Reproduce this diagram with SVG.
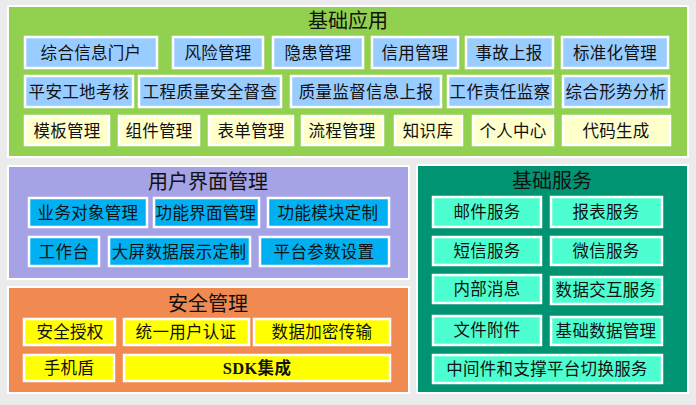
<svg xmlns="http://www.w3.org/2000/svg" width="696" height="405" viewBox="0 0 696 405">
<style>
text{font-family:"Liberation Serif","Noto Sans CJK SC",serif;fill:#111;text-anchor:middle;dominant-baseline:central}
.panel{stroke:#fff;stroke-width:2}
.box{stroke:#fff;stroke-width:2.5}
.t{font-size:16.5px;letter-spacing:0.3px}
.h{font-size:20px}
.b1{fill:#99ccff}.b2{fill:#ffffcc}.b3{fill:#00b0f0}.b4{fill:#ffff00}.b5{fill:#4dffd0}
</style>
<rect x="0" y="0" width="696" height="405" fill="#ebebeb"/>
<g id="jichuyingyong">
<rect class="panel" x="8" y="6" width="680" height="151" fill="#92d050"/>
<text class="h" x="348" y="21">基础应用</text>
</g>
<g id="n1"><rect class="box b1" x="25" y="37" width="132" height="31"/><text class="t" x="91" y="53">综合信息门户</text></g>
<g id="n2"><rect class="box b1" x="173" y="37" width="90" height="31"/><text class="t" x="218" y="53">风险管理</text></g>
<g id="n3"><rect class="box b1" x="273" y="37" width="90" height="31"/><text class="t" x="318" y="53">隐患管理</text></g>
<g id="n4"><rect class="box b1" x="372" y="37" width="86" height="31"/><text class="t" x="415" y="53">信用管理</text></g>
<g id="n5"><rect class="box b1" x="466" y="37" width="87" height="31"/><text class="t" x="509" y="53">事故上报</text></g>
<g id="n6"><rect class="box b1" x="562" y="37" width="106" height="31"/><text class="t" x="615" y="53">标准化管理</text></g>
<g id="n7"><rect class="box b1" x="25" y="76" width="108" height="31"/><text class="t" x="79" y="92">平安工地考核</text></g>
<g id="n8"><rect class="box b1" x="139" y="76" width="142" height="31"/><text class="t" x="210" y="92">工程质量安全督查</text></g>
<g id="n9"><rect class="box b1" x="291" y="76" width="150" height="31"/><text class="t" x="366" y="92">质量监督信息上报</text></g>
<g id="n10"><rect class="box b1" x="448" y="76" width="105" height="31"/><text class="t" x="500" y="92">工作责任监察</text></g>
<g id="n11"><rect class="box b1" x="563" y="76" width="106" height="31"/><text class="t" x="616" y="92">综合形势分析</text></g>
<g id="n12"><rect class="box b2" x="25" y="116" width="84" height="29"/><text class="t" x="67" y="131">模板管理</text></g>
<g id="n13"><rect class="box b2" x="119" y="116" width="80" height="29"/><text class="t" x="159" y="131">组件管理</text></g>
<g id="n14"><rect class="box b2" x="209" y="116" width="84" height="29"/><text class="t" x="251" y="131">表单管理</text></g>
<g id="n15"><rect class="box b2" x="302" y="116" width="81" height="29"/><text class="t" x="342" y="131">流程管理</text></g>
<g id="n16"><rect class="box b2" x="395" y="116" width="67" height="29"/><text class="t" x="428" y="131">知识库</text></g>
<g id="n17"><rect class="box b2" x="473" y="116" width="80" height="29"/><text class="t" x="513" y="131">个人中心</text></g>
<g id="n18"><rect class="box b2" x="563" y="116" width="107" height="29"/><text class="t" x="616" y="131">代码生成</text></g>

<g id="yonghujiemian">
<rect class="panel" x="8" y="166" width="401" height="113" fill="#a5a2e6"/>
<text class="h" x="208" y="182">用户界面管理</text>
</g>
<g id="u1"><rect class="box b3" x="29" y="198" width="118" height="29"/><text class="t" x="88" y="213">业务对象管理</text></g>
<g id="u2"><rect class="box b3" x="154" y="198" width="105" height="29"/><text class="t" x="206" y="213">功能界面管理</text></g>
<g id="u3"><rect class="box b3" x="268" y="198" width="121" height="29"/><text class="t" x="328" y="213">功能模块定制</text></g>
<g id="u4"><rect class="box b3" x="29" y="237" width="70" height="29"/><text class="t" x="64" y="252">工作台</text></g>
<g id="u5"><rect class="box b3" x="109" y="237" width="141" height="29"/><text class="t" x="179" y="252">大屏数据展示定制</text></g>
<g id="u6"><rect class="box b3" x="260" y="237" width="129" height="29"/><text class="t" x="324" y="252">平台参数设置</text></g>

<g id="anquan">
<rect class="panel" x="8" y="287" width="401" height="106" fill="#f08a50"/>
<text class="h" x="208" y="304">安全管理</text>
</g>
<g id="s1"><rect class="box b4" x="24" y="319" width="91" height="26"/><text class="t" x="70" y="332">安全授权</text></g>
<g id="s2"><rect class="box b4" x="124" y="319" width="125" height="26"/><text class="t" x="186" y="332">统一用户认证</text></g>
<g id="s3"><rect class="box b4" x="254" y="319" width="136" height="26"/><text class="t" x="322" y="332">数据加密传输</text></g>
<g id="s4"><rect class="box b4" x="24" y="355" width="90" height="26"/><text class="t" x="69" y="368">手机盾</text></g>
<g id="s5"><rect class="box b4" x="124" y="355" width="266" height="26"/><text class="t" x="257" y="368" font-weight="bold">SDK集成</text></g>

<g id="jichufuwu">
<rect class="panel" x="417" y="165" width="271" height="228" fill="#009473"/>
<text class="h" x="552" y="181">基础服务</text>
</g>
<g id="f1"><rect class="box b5" x="433" y="197" width="108" height="30"/><text class="t" x="487" y="212">邮件服务</text></g>
<g id="f2"><rect class="box b5" x="551" y="197" width="111" height="30"/><text class="t" x="606" y="212">报表服务</text></g>
<g id="f3"><rect class="box b5" x="433" y="237" width="108" height="28"/><text class="t" x="487" y="251">短信服务</text></g>
<g id="f4"><rect class="box b5" x="551" y="237" width="111" height="28"/><text class="t" x="606" y="251">微信服务</text></g>
<g id="f5"><rect class="box b5" x="433" y="275" width="108" height="28"/><text class="t" x="487" y="289">内部消息</text></g>
<g id="f6"><rect class="box b5" x="551" y="277" width="111" height="27"/><text class="t" x="606" y="290">数据交互服务</text></g>
<g id="f7"><rect class="box b5" x="433" y="316" width="108" height="29"/><text class="t" x="487" y="330">文件附件</text></g>
<g id="f8"><rect class="box b5" x="551" y="317" width="111" height="28"/><text class="t" x="606" y="331">基础数据管理</text></g>
<g id="f9"><rect class="box b5" x="433" y="355" width="229" height="28"/><text class="t" x="547" y="369">中间件和支撑平台切换服务</text></g>
<g id="connectors"/>
</svg>
